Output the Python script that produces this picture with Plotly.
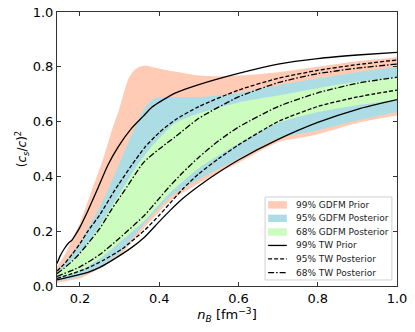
import plotly.graph_objects as go

# 99% GDFM prior band
prior_up_x = [0.142, 0.16, 0.18, 0.2, 0.23, 0.26, 0.283, 0.3, 0.321, 0.335, 0.35, 0.365, 0.38, 0.41, 0.45, 0.5, 0.55, 0.6, 0.65, 0.7, 0.8, 0.9, 1.0]
prior_up_y = [0.07, 0.11, 0.17, 0.23, 0.35, 0.47, 0.58, 0.65, 0.752, 0.785, 0.80, 0.805, 0.80, 0.79, 0.78, 0.768, 0.765, 0.768, 0.773, 0.78, 0.80, 0.82, 0.835]
prior_lo_x = [0.142, 0.2, 0.25, 0.3, 0.364, 0.427, 0.5, 0.553, 0.6, 0.7, 0.79, 0.9, 1.0]
prior_lo_y = [0.012, 0.028, 0.065, 0.11, 0.215, 0.31, 0.375, 0.416, 0.45, 0.525, 0.55, 0.595, 0.622]

# 95% GDFM posterior band
post95_up_x = [0.142, 0.16, 0.18, 0.2, 0.22, 0.25, 0.27, 0.3, 0.339, 0.364, 0.389, 0.44, 0.5, 0.55, 0.6, 0.7, 0.8, 0.9, 1.0]
post95_up_y = [0.05, 0.08, 0.12, 0.16, 0.21, 0.29, 0.35, 0.45, 0.58, 0.653, 0.686, 0.69, 0.69, 0.695, 0.705, 0.733, 0.757, 0.78, 0.80]
post95_lo_x = [0.142, 0.2, 0.25, 0.3, 0.364, 0.427, 0.5, 0.553, 0.6, 0.7, 0.79, 0.9, 1.0]
post95_lo_y = [0.018, 0.035, 0.07, 0.12, 0.23, 0.325, 0.39, 0.43, 0.465, 0.54, 0.565, 0.605, 0.635]

# 68% GDFM posterior band
post68_up_x = [0.142, 0.2, 0.25, 0.306, 0.34, 0.38, 0.44, 0.5, 0.6, 0.7, 0.8, 0.9, 1.0]
post68_up_y = [0.045, 0.12, 0.22, 0.35, 0.43, 0.507, 0.595, 0.63, 0.67, 0.695, 0.722, 0.745, 0.763]
post68_lo_x = [0.142, 0.2, 0.25, 0.3, 0.364, 0.427, 0.5, 0.6, 0.7, 0.8, 0.9, 1.0]
post68_lo_y = [0.03, 0.055, 0.1, 0.16, 0.24, 0.34, 0.43, 0.52, 0.595, 0.635, 0.66, 0.68]

# TW bounds
tw99_up_x = [0.142, 0.15, 0.16, 0.17, 0.18, 0.19, 0.2, 0.22, 0.243, 0.27, 0.296, 0.33, 0.36, 0.382, 0.44, 0.5, 0.6, 0.7, 0.8, 0.9, 1.0]
tw99_up_y = [0.082, 0.11, 0.135, 0.155, 0.168, 0.19, 0.215, 0.275, 0.35, 0.44, 0.507, 0.575, 0.62, 0.653, 0.704, 0.735, 0.776, 0.81, 0.83, 0.843, 0.853]
tw99_lo_x = [0.142, 0.18, 0.22, 0.25, 0.288, 0.33, 0.364, 0.4, 0.427, 0.46, 0.5, 0.55, 0.6, 0.7, 0.8, 0.9, 1.0]
tw99_lo_y = [0.022, 0.035, 0.05, 0.068, 0.1, 0.14, 0.18, 0.235, 0.275, 0.32, 0.365, 0.415, 0.46, 0.535, 0.597, 0.645, 0.68]

tw95_up_x = [0.142, 0.16, 0.18, 0.2, 0.22, 0.25, 0.288, 0.33, 0.364, 0.4, 0.44, 0.5, 0.6, 0.7, 0.8, 0.9, 1.0]
tw95_up_y = [0.055, 0.08, 0.115, 0.155, 0.2, 0.26, 0.35, 0.44, 0.507, 0.56, 0.606, 0.655, 0.715, 0.758, 0.787, 0.808, 0.825]
tw95_lo_x = [0.142, 0.18, 0.22, 0.26, 0.306, 0.364, 0.4, 0.427, 0.46, 0.5, 0.55, 0.6, 0.7, 0.8, 0.9, 1.0]
tw95_lo_y = [0.028, 0.045, 0.066, 0.095, 0.135, 0.205, 0.258, 0.302, 0.355, 0.41, 0.465, 0.515, 0.60, 0.655, 0.69, 0.715]

tw68_up_x = [0.142, 0.16, 0.18, 0.2, 0.22, 0.25, 0.28, 0.313, 0.36, 0.4, 0.44, 0.5, 0.6, 0.7, 0.8, 0.9, 1.0]
tw68_up_y = [0.045, 0.065, 0.09, 0.12, 0.155, 0.21, 0.28, 0.35, 0.45, 0.5, 0.544, 0.612, 0.69, 0.742, 0.775, 0.795, 0.81]
tw68_lo_x = [0.142, 0.2, 0.25, 0.3, 0.364, 0.4, 0.427, 0.46, 0.5, 0.55, 0.6, 0.7, 0.8, 0.9, 1.0]
tw68_lo_y = [0.035, 0.07, 0.115, 0.175, 0.26, 0.32, 0.365, 0.415, 0.47, 0.53, 0.58, 0.655, 0.705, 0.74, 0.762]

legend_labels = ['99% GDFM Prior', '95% GDFM Posterior', '68% GDFM Posterior',
                 '99% TW Prior', '95% TW Posterior', '68% TW Posterior']

SALMON = '#FFCBB4'
BLUE = '#ADDDE4'
GREEN = '#CCFDBE'
FONT = 'DejaVu Sans'
DASHES = {'99% TW Prior': 'solid', '95% TW Posterior': '4px,2px', '68% TW Posterior': '6px,2px,1.5px,2px'}

fig = go.Figure()

def band(xl, yl, xu, yu, color, name):
  fig.add_trace(go.Scatter(x = xl, y = yl, mode = 'lines', line = dict(width = 0, shape = 'spline', smoothing = 0.6),
                           showlegend = False, hoverinfo = 'skip'))
  fig.add_trace(go.Scatter(x = xu, y = yu, mode = 'lines', line = dict(width = 0, shape = 'spline', smoothing = 0.6),
                           fill = 'tonexty', fillcolor = color, name = name, showlegend = False))

band(prior_lo_x, prior_lo_y, prior_up_x, prior_up_y, SALMON, legend_labels[0])
band(post95_lo_x, post95_lo_y, post95_up_x, post95_up_y, BLUE, legend_labels[1])
band(post68_lo_x, post68_lo_y, post68_up_x, post68_up_y, GREEN, legend_labels[2])

def tw(xu, yu, xl, yl, name):
  ln = dict(color = 'black', width = 1.3, dash = DASHES[name], shape = 'spline', smoothing = 0.6)
  fig.add_trace(go.Scatter(x = xu, y = yu, mode = 'lines', line = ln, name = name, showlegend = False))
  fig.add_trace(go.Scatter(x = xl, y = yl, mode = 'lines', line = ln, name = name, showlegend = False))

tw(tw99_up_x, tw99_up_y, tw99_lo_x, tw99_lo_y, legend_labels[3])
tw(tw95_up_x, tw95_up_y, tw95_lo_x, tw95_lo_y, legend_labels[4])
tw(tw68_up_x, tw68_up_y, tw68_lo_x, tw68_lo_y, legend_labels[5])

# compact matplotlib-like legend box (plotly's own legend rows are too tall)
shapes = [dict(type = 'rect', xref = 'paper', yref = 'paper', x0 = 0.612, x1 = 0.985, y0 = 0.022, y1 = 0.325,
               line = dict(color = '#d0d0d0', width = 1), fillcolor = 'rgba(255,255,255,0.85)', layer = 'above')]
annots = []
row_y = [0.296, 0.247, 0.197, 0.148, 0.099, 0.049]
fills = [SALMON, BLUE, GREEN]
for i, lab in enumerate(legend_labels):
  yy = row_y[i]
  if i < 3:
    shapes.append(dict(type = 'rect', xref = 'paper', yref = 'paper', x0 = 0.621, x1 = 0.676, y0 = yy - 0.0135, y1 = yy + 0.0135,
                       line = dict(width = 0), fillcolor = fills[i], layer = 'above'))
  else:
    shapes.append(dict(type = 'line', xref = 'paper', yref = 'paper', x0 = 0.621, x1 = 0.676, y0 = yy, y1 = yy,
                       line = dict(color = 'black', width = 1.3, dash = DASHES[lab]), layer = 'above'))
  annots.append(dict(xref = 'paper', yref = 'paper', x = 0.697, y = yy, xanchor = 'left', yanchor = 'middle',
                     text = lab, showarrow = False, font = dict(size = 9, color = '#222')))

axis = dict(showline = True, linecolor = '#333', linewidth = 1, mirror = 'ticks', ticks = 'inside', ticklen = 4,
            tickcolor = '#333', showgrid = False, zeroline = False, tickfont = dict(size = 13, color = 'black'),
            dtick = 0.2, tick0 = 0, tickformat = '.1f', automargin = False, ticklabeloverflow = 'allow')

fig.update_layout(
  width = 415, height = 332,
  margin = dict(l = 57, r = 18, t = 12, b = 46),
  plot_bgcolor = 'white', paper_bgcolor = 'white',
  font = dict(family = FONT, color = 'black'),
  xaxis = dict(axis, range = [0.142, 1.0],
               title = dict(text = '<i>n</i><sub><i>B</i></sub> [fm<sup>−3</sup>]', font = dict(size = 13), standoff = 4)),
  yaxis = dict(axis, range = [0, 1.0],
               title = dict(text = '(<i>c</i><sub><i>s</i></sub>/<i>c</i>)<sup>2</sup>', font = dict(size = 12), standoff = 3)),
  shapes = shapes, annotations = annots,
  showlegend = False,
)

# drop the default 8px page margin so the figure fills the window
fig.write_html('out.html', config = {'displayModeBar': False},
               post_script = "document.body.style.margin = '0';")
